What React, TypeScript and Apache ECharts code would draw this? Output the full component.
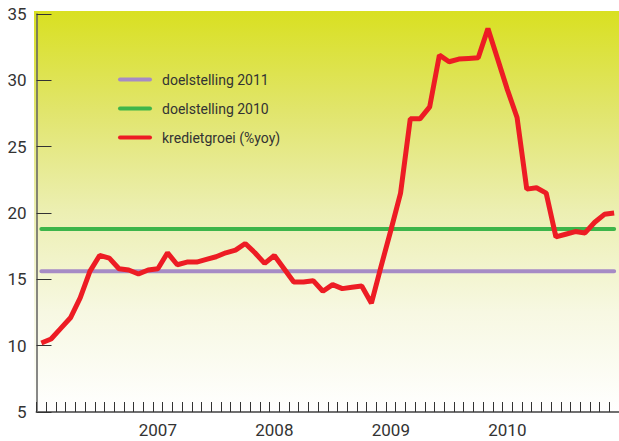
import React, { useEffect, useRef } from 'react';
import * as echarts from 'echarts';

const years = ['2006', '2007', '2008', '2009', '2010'];
const monthsOfYear = ['01', '02', '03', '04', '05', '06', '07', '08', '09', '10', '11', '12'];
const categories = years.flatMap((y) => monthsOfYear.map((m) => `${y}-${m}`));
const yearTickLabels = ['2007', '2008', '2009', '2010'];

// kredietgroei (%yoy), monthly Jan 2006 - Dec 2010
const kredietgroei = [
  10.2, 10.5, 11.3, 12.1, 13.6, 15.6, 16.8, 16.6, 15.8, 15.7, 15.4, 15.7,
  15.8, 17.0, 16.1, 16.3, 16.3, 16.5, 16.7, 17.0, 17.2, 17.7, 17.0, 16.2,
  16.8, 15.8, 14.8, 14.8, 14.9, 14.1, 14.6, 14.3, 14.4, 14.5, 13.2, 16.0,
  18.7, 21.5, 27.1, 27.1, 28.0, 31.9, 31.4, 31.6, 31.65, 31.7, 33.9, 31.6,
  29.3, 27.2, 21.8, 21.9, 21.5, 18.2, 18.4, 18.6, 18.5, 19.3, 19.9, 20.0,
];
const doelstelling2010Level = 18.8;
const doelstelling2011Level = 15.6;

const yMin = 5;
const yMax = 35;
const yInterval = 5;

const FONT = 'Roboto, "Noto Sans", sans-serif';
const TEXT = '#333333';
const LEGEND_ICON = 'path://M2,0 L32,0 A2,2 0 0 1 32,4 L2,4 A2,2 0 0 1 2,0 Z';

export default function App() {
  const ref = useRef<HTMLDivElement>(null);
  useEffect(() => {
    if (!ref.current) return;
    const chart = echarts.init(ref.current, null, { renderer: 'svg' });
    chart.setOption({
      animation: false,
      backgroundColor: '#ffffff',
      textStyle: { fontFamily: FONT },
      graphic: [
        {
          type: 'rect',
          z: -10,
          silent: true,
          shape: { x: 34, y: 11, width: 585, height: 401 },
          style: {
            fill: new echarts.graphic.LinearGradient(0, 0, 0, 1, [
              { offset: 0, color: '#d9e021' },
              { offset: 0.25, color: '#e1e56c' },
              { offset: 0.5, color: '#ecefb2' },
              { offset: 0.75, color: '#f7f8e2' },
              { offset: 1, color: '#ffffff' },
            ]),
          },
        },
      ],
      grid: { left: 36.5, top: 14, width: 584, height: 398, containLabel: false },
      legend: {
        orient: 'vertical',
        left: 113,
        top: 67,
        icon: LEGEND_ICON,
        itemWidth: 34,
        itemHeight: 4,
        itemGap: 14,
        data: ['doelstelling 2011', 'doelstelling 2010', 'kredietgroei (%yoy)'],
        textStyle: {
          fontFamily: FONT,
          fontSize: 14,
          lineHeight: 15,
          color: TEXT,
          padding: [0, 0, 0, 5],
        },
      },
      xAxis: {
        type: 'category',
        data: categories,
        boundaryGap: true,
        axisLine: { show: true, lineStyle: { color: '#707070', width: 2 } },
        axisTick: { show: true, inside: true, length: 10, interval: 0, lineStyle: { color: '#333', width: 1 } },
        axisLabel: {
          interval: 0,
          margin: 9,
          fontFamily: FONT,
          fontSize: 17,
          color: TEXT,
          hideOverlap: false,
          formatter: (v: string) => {
            const [y, m] = v.split('-');
            return m === '01' && yearTickLabels.includes(y) ? y : '';
          },
        },
        splitLine: { show: false },
      },
      yAxis: {
        type: 'value',
        min: yMin,
        max: yMax,
        interval: yInterval,
        axisLine: { show: true, lineStyle: { color: '#606060', width: 1.5 } },
        axisTick: { show: true, inside: true, length: 15, lineStyle: { color: '#333', width: 1 } },
        axisLabel: { margin: 10, fontFamily: FONT, fontSize: 17, color: TEXT, padding: [8, 0, 0, 0] },
        splitLine: { show: false },
      },
      series: [
        {
          name: 'doelstelling 2011',
          type: 'line',
          symbol: 'none',
          data: categories.map(() => doelstelling2011Level),
          lineStyle: { color: '#a68bc5', width: 4, cap: 'round' },
          itemStyle: { color: '#a68bc5' },
          z: 2,
        },
        {
          name: 'doelstelling 2010',
          type: 'line',
          symbol: 'none',
          data: categories.map(() => doelstelling2010Level),
          lineStyle: { color: '#3db54a', width: 4, cap: 'round' },
          itemStyle: { color: '#3db54a' },
          z: 3,
        },
        {
          name: 'kredietgroei (%yoy)',
          type: 'line',
          symbol: 'none',
          data: kredietgroei,
          lineStyle: { color: '#ed1c24', width: 5 },
          itemStyle: { color: '#ed1c24' },
          z: 4,
        },
      ],
    });
    return () => chart.dispose();
  }, []);
  return (
    <div
      ref={ref}
      style={{ position: 'fixed', left: 0, top: 0, width: 619, height: 441, background: '#fff' }}
    />
  );
}
